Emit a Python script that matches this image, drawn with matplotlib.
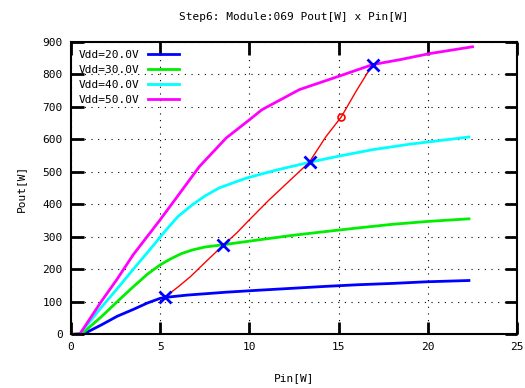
import matplotlib
matplotlib.use("Agg")
import matplotlib.pyplot as plt

# Pout x Pin curves for each Vdd
pin_20 = [0.4, 0.7, 1.7, 2.6, 3.5, 4.3, 5.0, 5.3, 6.5, 8.7, 10.5, 12.4, 14.3, 16.1, 18.0, 19.9, 22.3]
pout_20 = [0, 0, 28, 55, 76, 96, 110, 113, 120, 129, 135, 141, 147, 152, 156, 161, 165]

pin_30 = [0.3, 0.6, 1.7, 2.6, 3.5, 4.3, 5.0, 5.6, 6.2, 6.8, 7.5, 8.5, 10.5, 12.4, 14.3, 16.1, 18.0, 20.0, 22.3]
pout_30 = [0, 0, 53, 100, 146, 185, 213, 232, 248, 259, 268, 275, 290, 304, 316, 327, 338, 347, 355]

pin_40 = [0.3, 0.5, 1.7, 2.6, 3.5, 4.5, 5.4, 6.0, 6.8, 7.5, 8.3, 9.8, 11.5, 13.35, 15.0, 16.9, 19.0, 22.3]
pout_40 = [0, 0, 82, 140, 200, 265, 325, 362, 398, 425, 450, 480, 505, 529, 548, 568, 585, 607]

pin_50 = [0.2, 0.5, 1.7, 2.6, 3.5, 5.0, 5.9, 7.2, 8.7, 10.0, 10.7, 12.8, 15.0, 16.9, 18.5, 20.1, 22.5]
pout_50 = [0, 0, 100, 170, 245, 352, 419, 516, 604, 660, 691, 753, 794, 830, 846, 864, 885]

vdd_labels = ["Vdd=20.0V", "Vdd=30.0V", "Vdd=40.0V", "Vdd=50.0V"]
colors = ["#0000ff", "#00ee00", "#00ffff", "#ff00ff"]

# red compression curve and its points
pin_red = [5.3, 6.0, 6.7, 7.6, 8.5, 9.3, 10.0, 11.1, 12.4, 13.35, 14.3, 15.15, 16.0, 16.9]
pout_red = [115, 145, 177, 225, 272, 312, 352, 413, 480, 529, 609, 669, 750, 830]
pin_x = [5.3, 8.5, 13.4, 16.9]
pout_x = [115, 275, 530, 830]
pin_o = [15.15]
pout_o = [669]

plt.rcParams['font.family'] = ['DejaVu Sans Mono']

fig = plt.figure(figsize=(5.25, 3.88), dpi=100)
ax = fig.add_axes([0.135, 0.139, 0.85, 0.753])

curves = [(pin_20, pout_20), (pin_30, pout_30), (pin_40, pout_40), (pin_50, pout_50)]
for (xs, ys), c, lab in zip(curves, colors, vdd_labels):
    ax.plot(xs, ys, color=c, lw=2, label=lab)

ax.plot(pin_red, pout_red, color="#ff0000", lw=1)
ax.plot(pin_o, pout_o, 'o', color="#ff0000", mfc='none', ms=5, mew=1.2)
ax.plot(pin_x, pout_x, 'x', color="#0000ff", ms=8, mew=2)

ax.set_xlim(0, 25)
ax.set_ylim(0, 900)
ax.set_xticks(range(0, 26, 5))
ax.set_yticks(range(0, 901, 100))
ax.grid(True, color='black', linestyle=(0, (1, 5)), lw=0.8)
ax.tick_params(direction='in', length=9, width=2, top=True, right=True, labelsize=8, pad=6)
for s in ax.spines.values():
    s.set_linewidth(1.5)

ax.set_title("Step6: Module:069 Pout[W] x Pin[W]", fontsize=8, pad=16)
ax.set_xlabel("Pin[W]", fontsize=8, labelpad=15)
ax.set_ylabel("Pout[W]", fontsize=8, labelpad=12)

ax.legend(loc='upper left', frameon=False, fontsize=8, markerfirst=False,
          handlelength=2.8, handletextpad=0.8, labelspacing=0.45,
          borderaxespad=0.3)

fig.savefig("out.png", dpi=100)
